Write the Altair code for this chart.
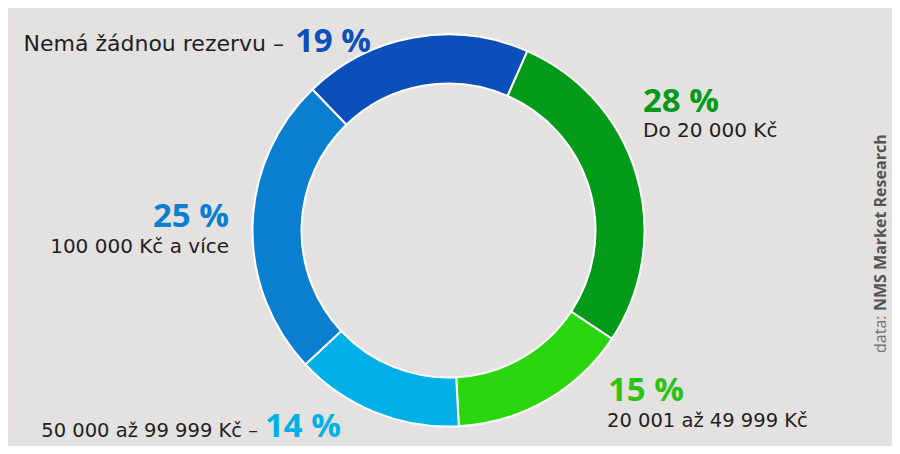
import math
import altair as alt
import pandas as pd

# Data (clockwise from the upper left)
categories = ["Nemá žádnou rezervu", "Do 20 000 Kč", "20 001 až 49 999 Kč",
              "50 000 až 99 999 Kč", "100 000 Kč a více"]
values = [19, 28, 15, 14, 25]
colors = ["#0b4fba", "#019a19", "#2ad70e", "#00b0e6", "#0a7fd0"]
source_prefix = "data: "
source_name = "NMS Market Research"

df = pd.DataFrame({"cat": categories, "value": values, "order": list(range(len(values)))})

start = math.radians(-44)
CX, CY = 440.5, 222.5

ring = alt.Chart(df).mark_arc(
    outerRadius=196, innerRadius=147, stroke="white", strokeWidth=2
).encode(
    theta=alt.Theta("value:Q", stack=True,
                    scale=alt.Scale(range=[start, start + 2 * math.pi])),
    order=alt.Order("order:Q"),
    color=alt.Color("cat:N", scale=alt.Scale(domain=categories, range=colors), legend=None),
    x=alt.value(CX), y=alt.value(CY),
)

REG = "DejaVu Sans"
BOLD = "Open Sans"
DARK = "#1e1e1e"


def txt(s, x, y, align, size, color, font, weight="normal", angle=None):
    kw = dict(align=align, baseline="alphabetic", fontSize=size, color=color,
              font=font, fontWeight=weight)
    if angle is not None:
        kw["angle"] = angle
    return alt.Chart(pd.DataFrame({"t": [s]})).mark_text(**kw).encode(
        text="t:N", x=alt.value(x), y=alt.value(y))


def pct(i):
    return f"{values[i]} %"


layers = [
    ring,
    # 19 %
    txt(categories[0] + " –", 276, 43, "right", 22, DARK, REG),
    txt(pct(0), 287, 44, "left", 33, colors[0], BOLD, "bold"),
    # 28 %
    txt(pct(1), 635, 104, "left", 33, colors[1], BOLD, "bold"),
    txt(categories[1], 635, 129, "left", 20, DARK, REG),
    # 15 %
    txt(pct(2), 600, 393, "left", 33, "#2cc414", BOLD, "bold"),
    txt(categories[2], 599, 419, "left", 19.5, DARK, REG),
    # 14 %
    txt(categories[3] + " –", 250, 429, "right", 19.5, DARK, REG),
    txt(pct(3), 257, 429, "left", 33, colors[3], BOLD, "bold"),
    # 25 %
    txt(pct(4), 221, 219, "right", 33, colors[4], BOLD, "bold"),
    txt(categories[4], 221, 245, "right", 20, DARK, REG),
    # source
    txt(source_prefix, 878, 345, "left", 16, "#6f6f6f", "Open Sans", "normal", 270),
    txt(source_name, 878, 303, "left", 16, "#555555", "Open Sans", "bold", 270),
]

chart = alt.layer(*layers).properties(
    width=884, height=438, padding=0, background="#e4e1e1",
    autosize=alt.AutoSizeParams(type="fit", contains="padding"),
).configure_view(stroke=None)

chart.save("out.html", embed_options={"renderer": "svg", "actions": False})
